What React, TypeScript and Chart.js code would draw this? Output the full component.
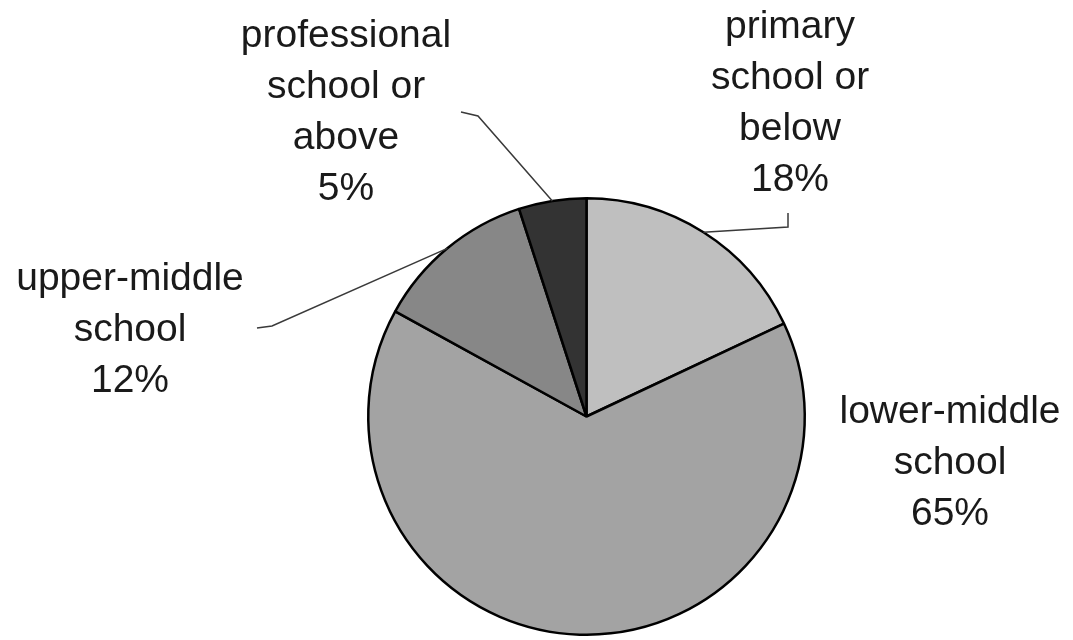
import React, { useEffect, useRef } from "react";
import { Chart, registerables } from "chart.js";

Chart.register(...registerables);

const categories: string[][] = [
  ["primary", "school or", "below"],
  ["lower-middle", "school"],
  ["upper-middle", "school"],
  ["professional", "school or", "above"],
];
const values: number[] = [18, 65, 12, 5];
const colors: string[] = ["#bfbfbf", "#a3a3a3", "#878787", "#333333"];

// label layout: text center x, first baseline y, elbow points of leader (null = none)
const labelX: number[] = [790, 950, 130, 346];
const labelY: number[] = [38, 423, 290, 47];
const leaderPts: (number[][] | null)[] = [
  [[788, 227], [788, 213]],
  null,
  [[272, 326], [257, 328]],
  [[478, 116], [461, 112]],
];

const labelPlugin = {
  id: "pieLabels",
  afterDraw(chart: any) {
    const ctx = chart.ctx;
    const meta = chart.getDatasetMeta(0);
    ctx.save();
    meta.data.forEach((arc: any, i: number) => {
      const { x, y, startAngle, endAngle, outerRadius } = arc.getProps(
        ["x", "y", "startAngle", "endAngle", "outerRadius"],
        true
      );
      const mid = (startAngle + endAngle) / 2;
      const pts = leaderPts[i];
      if (pts) {
        ctx.beginPath();
        ctx.strokeStyle = "#3a3a3a";
        ctx.lineWidth = 1.5;
        ctx.moveTo(x + Math.cos(mid) * outerRadius, y + Math.sin(mid) * outerRadius);
        pts.forEach((p) => ctx.lineTo(p[0], p[1]));
        ctx.stroke();
      }
      const lines = [...categories[i], `${values[i]}%`];
      ctx.fillStyle = "#1a1a1a";
      ctx.font = "39px 'Liberation Sans', Arial, sans-serif";
      ctx.textAlign = "center";
      ctx.textBaseline = "alphabetic";
      lines.forEach((t, k) => ctx.fillText(t, labelX[i], labelY[i] + k * 51));
    });
    ctx.restore();
  },
};

export default function App() {
  const ref = useRef<HTMLCanvasElement | null>(null);
  useEffect(() => {
    if (!ref.current) return;
    const chart = new Chart(ref.current, {
      type: "pie",
      data: {
        labels: categories.map((c) => c.join(" ")),
        datasets: [
          {
            data: values,
            backgroundColor: colors,
            borderColor: "#000000",
            borderWidth: 2.5,
          },
        ],
      },
      options: {
        responsive: false,
        animation: false,
        layout: { padding: { left: 367, right: 267, top: 197, bottom: 4 } },
        plugins: {
          legend: { display: false },
          tooltip: { enabled: false },
        },
      },
      plugins: [labelPlugin],
    });
    return () => chart.destroy();
  }, []);
  return (
    <div style={{ position: "absolute", left: 0, top: 0, width: 1073, height: 640, background: "#fff" }}>
      <canvas ref={ref} width={1073} height={640} />
    </div>
  );
}
